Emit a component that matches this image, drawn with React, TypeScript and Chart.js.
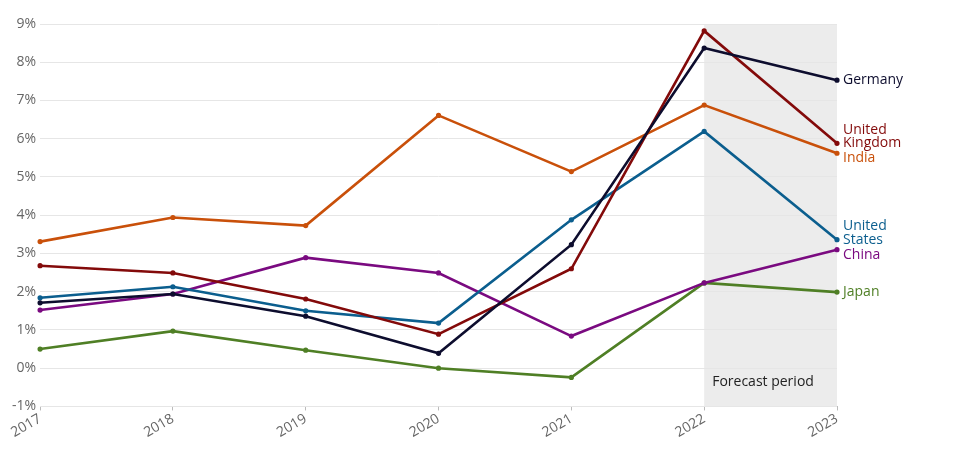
import React, { useEffect, useRef } from "react";
import { Chart, registerables } from "chart.js";

Chart.register(...registerables);

const years = ["2017", "2018", "2019", "2020", "2021", "2022", "2023"];
const germany = [1.71, 1.94, 1.36, 0.39, 3.23, 8.37, 7.53];
const unitedKingdom = [2.68, 2.49, 1.81, 0.89, 2.6, 8.82, 5.88];
const india = [3.31, 3.94, 3.73, 6.61, 5.14, 6.88, 5.62];
const unitedStates = [1.84, 2.13, 1.5, 1.18, 3.88, 6.19, 3.36];
const china = [1.52, 1.94, 2.89, 2.49, 0.84, 2.23, 3.1];
const japan = [0.5, 0.97, 0.47, 0.0, -0.24, 2.23, 1.99];
const seriesNames = [["Germany"], ["United", "Kingdom"], ["India"], ["United", "States"], ["China"], ["Japan"]];
const seriesColors = ["#0d0d2e", "#830a0a", "#c9500a", "#0b5e8e", "#7a0a80", "#4f7f25"];
const forecastStart = "2022";
const forecastEnd = "2023";
const forecastText = "Forecast period";

const FONT = "'Open Sans', 'Noto Sans', sans-serif";

const forecastPlugin = {
  id: "forecast",
  beforeDraw(chart: any) {
    const { ctx, chartArea, scales } = chart;
    const x0 = scales.x.getPixelForValue(years.indexOf(forecastStart));
    const x1 = scales.x.getPixelForValue(years.indexOf(forecastEnd));
    ctx.save();
    ctx.fillStyle = "#ececec";
    ctx.fillRect(x0, chartArea.top, x1 - x0, chartArea.bottom - chartArea.top);
    ctx.restore();
  },
  afterDatasetsDraw(chart: any) {
    const { ctx, chartArea, scales } = chart;
    const x0 = scales.x.getPixelForValue(years.indexOf(forecastStart));
    ctx.save();
    ctx.font = `14px ${FONT}`;
    ctx.fillStyle = "#222";
    ctx.textAlign = "left";
    ctx.textBaseline = "middle";
    ctx.fillText(forecastText, x0 + 8, chartArea.bottom - 24);
    ctx.restore();
  },
};

const endLabelPlugin = {
  id: "endLabels",
  afterDatasetsDraw(chart: any) {
    const { ctx } = chart;
    const lineH = 13.5;
    const gap = 15;
    const items = chart.data.datasets.map((ds: any, i: number) => {
      const meta = chart.getDatasetMeta(i);
      const pt = meta.data[meta.data.length - 1];
      return { x: pt.x, y: pt.y, lines: seriesNames[i], color: seriesColors[i] };
    });
    items.sort((a: any, b: any) => a.y - b.y);
    let prevBottom = -Infinity;
    ctx.save();
    ctx.font = `14px ${FONT}`;
    ctx.textAlign = "left";
    ctx.textBaseline = "middle";
    for (const it of items) {
      const n = it.lines.length;
      let lastY = it.y;
      let firstY = lastY - (n - 1) * lineH;
      if (firstY < prevBottom + gap) {
        firstY = prevBottom + gap;
        lastY = firstY + (n - 1) * lineH;
      }
      ctx.fillStyle = it.color;
      it.lines.forEach((t: string, k: number) => {
        ctx.fillText(t, it.x + 6, firstY + k * lineH);
      });
      prevBottom = lastY;
    }
    ctx.restore();
  },
};

export default function App() {
  const ref = useRef<HTMLCanvasElement | null>(null);
  useEffect(() => {
    document.body.style.margin = "0";
    const data = [germany, unitedKingdom, india, unitedStates, china, japan];
    const chart = new Chart(ref.current as HTMLCanvasElement, {
      type: "line",
      data: {
        labels: years,
        datasets: data.map((d, i) => ({
          label: seriesNames[i].join(" "),
          data: d,
          borderColor: seriesColors[i],
          backgroundColor: seriesColors[i],
          borderWidth: 2.6,
          pointRadius: 1.3,
          pointHoverRadius: 1.3,
          tension: 0,
        })),
      },
      options: {
        animation: false,
        responsive: false,
        maintainAspectRatio: false,
        layout: { padding: { top: 24, right: 123, bottom: 14, left: 8 } },
        plugins: { legend: { display: false }, tooltip: { enabled: false } },
        scales: {
          x: {
            type: "category",
            offset: false,
            grid: { drawOnChartArea: false, drawTicks: true, tickLength: 4, color: "#bbb" },
            border: { display: false },
            ticks: {
              minRotation: 30,
              maxRotation: 30,
              color: "#666",
              font: { family: FONT, size: 14 },
              padding: 0,
            },
          },
          y: {
            min: -1,
            max: 9,
            grid: { color: "#e6e6e6", drawTicks: false, lineWidth: 1 },
            border: { display: false },
            ticks: {
              stepSize: 1,
              color: "#666",
              font: { family: FONT, size: 14 },
              padding: 4,
              callback: (v: any) => `${v}%`,
            },
          },
        },
      },
      plugins: [forecastPlugin, endLabelPlugin],
    });
    return () => chart.destroy();
  }, []);
  return (
    <div style={{ width: 960, height: 455 }}>
      <canvas ref={ref} width={960} height={455} style={{ display: "block" }} />
    </div>
  );
}
